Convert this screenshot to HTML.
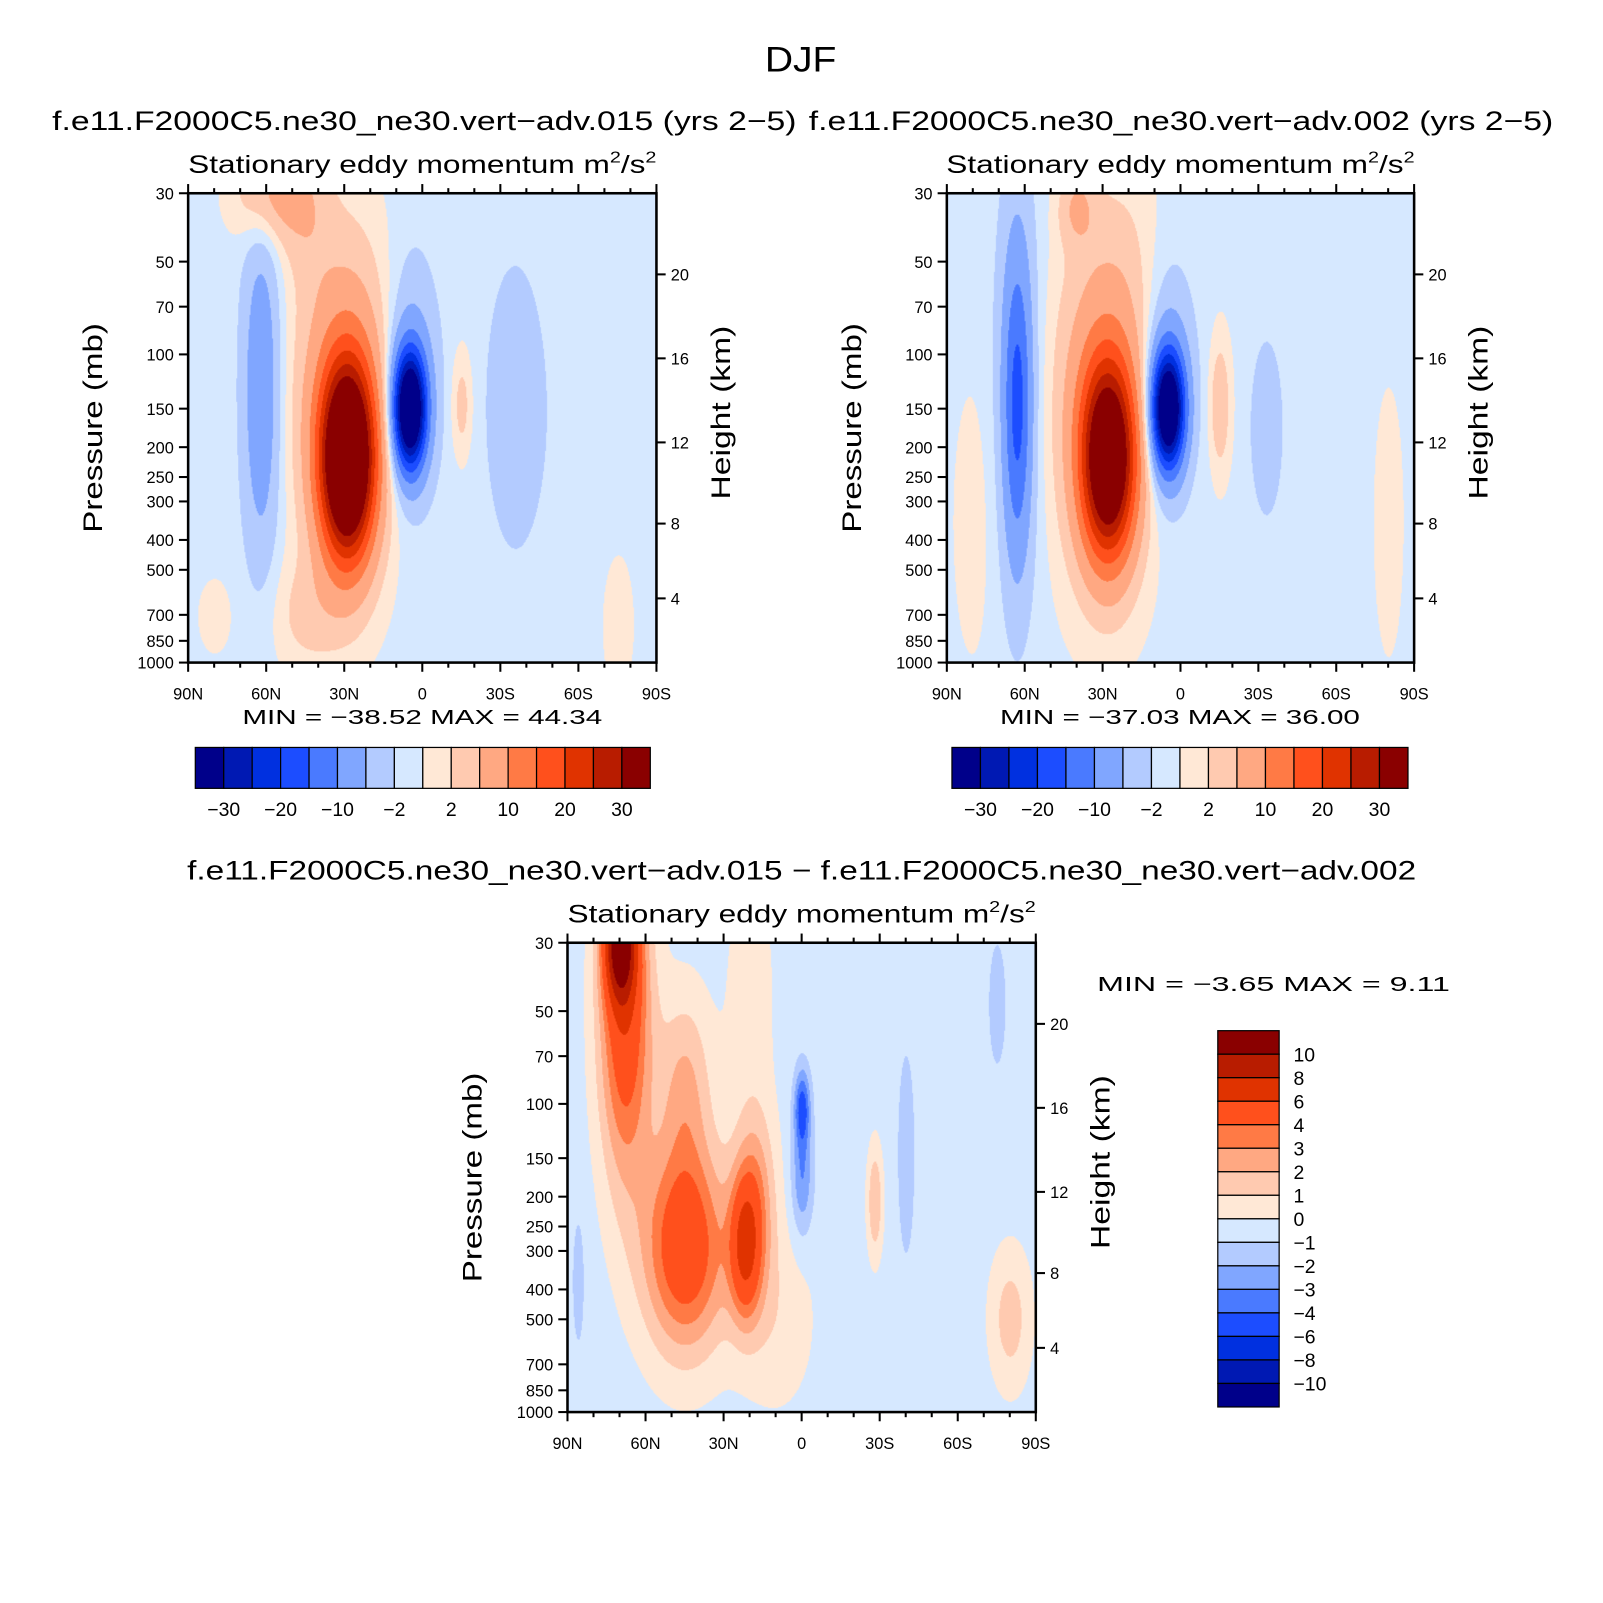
<!DOCTYPE html>
<html><head><meta charset="utf-8"><style>
body{margin:0;background:#fff;}
#outer{position:relative;width:1603px;height:1603px;overflow:hidden;}
#wrap{position:absolute;left:0;top:0;width:1560px;height:1560px;transform:scale(1.0225);transform-origin:0 0;font-family:"Liberation Sans",sans-serif;}
canvas{position:absolute;}
svg{position:absolute;left:0;top:0;}
</style></head><body>
<div id="outer">
<div id="wrap">
<canvas id="c1"></canvas>
<canvas id="c2"></canvas>
<canvas id="c3"></canvas>
<svg id="s" width="1560" height="1560"></svg>
</div></div>
<script>
// ---- data ----
const latTicks = [90,60,30,0,-30,-60,-90];
const latLabels = ["90N","60N","30N","0","30S","60S","90S"];
const presTicks = [30,50,70,100,150,200,250,300,400,500,700,850,1000];
const kmTicks = [20,16,12,8,4];
const kmPres = [55,103,193,354,619];
const levelsTop = [-30,-25,-20,-15,-10,-5,-2,0,2,5,10,15,20,25,30];
const levelsBot = [-10,-8,-6,-4,-3,-2,-1,0,1,2,3,4,6,8,10];
const colorsTop = ["#00008a","#0019b3","#0030e0","#1c4dff","#4a7aff","#80a6ff","#b3cbff","#d6e8ff","#ffe8d6","#ffcab0","#ffa882","#ff7a45","#ff501c","#e03300","#b81c00","#8a0000"];
const labelsTopCb = ["−30","−20","−10","−2","2","10","20","30"];
const labelsBotCb = ["10","8","6","4","3","2","1","0","−1","−2","−3","−4","−6","−8","−10"];
// blobs: lat, z(0 top..1 bottom in log-p), amplitude, lat-width, z-width
const blobLat1=[29,30,5,5,62,58,-15,-35,-60,45,-75,80,45];
const blobZ1  =[0.57,0.45,0.46,0.40,0.42,0.0,0.45,0.45,0.5,0.9,0.9,0.9,0.05];
const blobA1  =[48,10,-42,-6,-8,7,4,-3.5,-0.8,3,2,1.5,3];
const blobSx1 =[10,18,6,10,7,14,4,9,40,14,8,8,10];
const blobSz1 =[0.2,0.35,0.12,0.25,0.35,0.1,0.12,0.25,0.5,0.12,0.2,0.1,0.15];
const base1=-0.8;
const blobLat2=[28,30,5,5,63,63,40,-15,-33,80,-80,20];
const blobZ2  =[0.57,0.45,0.46,0.40,0.45,0.4,0.03,0.45,0.5,0.7,0.7,0.15];
const blobA2  =[40,9,-40,-6,-13,-4,5,5,-4,1.5,1.5,1.2];
const blobSx2 =[10,18,6,10,5,9,7,4,6,8,6,15];
const blobSz2 =[0.2,0.35,0.12,0.25,0.3,0.5,0.08,0.14,0.18,0.3,0.3,0.25];
const base2=-0.6;
const blobLat3=[70,68,45,22,18,45,0,0,-28,-40,-75,-80,86,10,20];
const blobZ3  =[0.0,0.15,0.65,0.65,0.55,0.3,0.35,0.5,0.55,0.45,0.13,0.8,0.72,0.8,0.1];
const blobA3  =[9,6,6,5,3,2.5,-4,-2.5,2.5,-1.5,-1.5,2,-1.5,1.2,1];
const blobSx3 =[6,10,16,6,8,10,3,4,3,3,3,8,2,15,10];
const blobSz3 =[0.12,0.35,0.22,0.15,0.2,0.2,0.08,0.12,0.12,0.2,0.12,0.15,0.12,0.2,0.3];
const base3=-0.5;

const P1={x0:184,y0:189,w:458,h:459}, P2={x0:926,y0:189,w:457,h:459}, P3={x0:555,y0:922,w:458,h:459};
const L30=Math.log(1000/30);
function xOf(lat,p){return p.x0+(90-lat)/180*p.w;}
function yOf(pr,p){return p.y0+Math.log(pr/30)/L30*p.h;}
function field(lat,z,L,Z,A,SX,SZ,b){let v=b;for(let i=0;i<L.length;i++){const dx=(lat-L[i])/SX[i],dz=(z-Z[i])/SZ[i];v+=A[i]*Math.exp(-dx*dx-dz*dz);}return v;}
function hex(c){return [parseInt(c.substr(1,2),16),parseInt(c.substr(3,2),16),parseInt(c.substr(5,2),16)];}
const rgb=colorsTop.map(hex);
function drawField(id,p,L,Z,A,SX,SZ,b,lev){
  const c=document.getElementById(id);c.width=p.w;c.height=p.h;c.style.left=p.x0+'px';c.style.top=p.y0+'px';
  const ctx=c.getContext('2d');const img=ctx.createImageData(p.w,p.h);
  for(let j=0;j<p.h;j++){const z=j/p.h;for(let i=0;i<p.w;i++){const lat=90-i/p.w*180;const v=field(lat,z,L,Z,A,SX,SZ,b);
    let k=0;while(k<lev.length&&v>=lev[k])k++;const col=rgb[k];const o=(j*p.w+i)*4;img.data[o]=col[0];img.data[o+1]=col[1];img.data[o+2]=col[2];img.data[o+3]=255;}}
  ctx.putImageData(img,0,0);
}
drawField('c1',P1,blobLat1,blobZ1,blobA1,blobSx1,blobSz1,base1,levelsTop);
drawField('c2',P2,blobLat2,blobZ2,blobA2,blobSx2,blobSz2,base2,levelsTop);
drawField('c3',P3,blobLat3,blobZ3,blobA3,blobSx3,blobSz3,base3,levelsBot);

const S=document.getElementById('s');const NS='http://www.w3.org/2000/svg';
function el(t,a,txt){const e=document.createElementNS(NS,t);for(const k in a)e.setAttribute(k,a[k]);if(txt!==undefined)e.textContent=txt;S.appendChild(e);return e;}
function text(x,y,s,size,anchor,name,rot,tl){const e=el('text',{x:x,y:y,'font-size':size,'text-anchor':anchor||'middle','font-family':'Liberation Sans, sans-serif',fill:'#000'},s);
  if(rot)e.setAttribute('transform','rotate(-90 '+x+' '+y+')');
  if(tl){e.setAttribute('textLength',tl);e.setAttribute('lengthAdjust','spacingAndGlyphs');}
  
  return e;}
function line(x1,y1,x2,y2,w){const e=el('line',{x1:x1,y1:y1,x2:x2,y2:y2,stroke:'#000','stroke-width':w||2});
  
  return e;}

function axes(p,tag){
  const r=el('rect',{x:p.x0,y:p.y0,width:p.w,height:p.h,fill:'none',stroke:'#000','stroke-width':2.5});
  
  
  for(let lat=90;lat>=-90;lat-=10){const x=xOf(lat,p);const maj=lat%30===0;const len=maj?9:5;
    line(x,p.y0+p.h,x,p.y0+p.h+len);line(x,p.y0,x,p.y0-len);}
  latTicks.forEach((lat,i)=>{text(xOf(lat,p),p.y0+p.h+36,latLabels[i],16,'middle',tag+'-x-tick-label');});
  presTicks.forEach(pr=>{const y=yOf(pr,p);line(p.x0-9,y,p.x0,y);text(p.x0-14,y+6,String(pr),16,'end',tag+'-y-tick-label');});
  kmTicks.forEach((k,i)=>{const y=yOf(kmPres[i],p);line(p.x0+p.w,y,p.x0+p.w+9,y);text(p.x0+p.w+14,y+6,String(k),16,'start',tag+'-height-tick-label');});
  text(p.x0-84,p.y0+p.h/2,'Pressure (mb)',26,'middle',tag+'-y-axis-title',true,205);
  text(p.x0+p.w+72,p.y0+p.h/2-15,'Height (km)',26,'middle',tag+'-height-axis-title',true,170);
  const t=text(p.x0+p.w/2,p.y0-20,'',24,'middle',tag+'-variable-title');
  t.innerHTML='Stationary eddy momentum  m<tspan font-size="15" dy="-10">2</tspan><tspan dy="10">/s</tspan><tspan font-size="15" dy="-10">2</tspan>';
  t.setAttribute('textLength',458);t.setAttribute('lengthAdjust','spacingAndGlyphs');
}
axes(P1,'panel-1');axes(P2,'panel-2');axes(P3,'panel-diff');

text(783,70,'DJF',34,'middle','figure-title',false,70);
text(415,127,'f.e11.F2000C5.ne30_ne30.vert−adv.015 (yrs 2−5)',26,'middle','panel-1-title',false,728);
text(1155,127,'f.e11.F2000C5.ne30_ne30.vert−adv.002 (yrs 2−5)',26,'middle','panel-2-title',false,728);
text(784,860,'f.e11.F2000C5.ne30_ne30.vert−adv.015 − f.e11.F2000C5.ne30_ne30.vert−adv.002',26,'middle','panel-diff-title',false,1202);
text(413,708,'MIN = −38.52   MAX =   44.34',20,'middle','panel-1-min-max',false,352);
text(1154,708,'MIN = −37.03   MAX =   36.00',20,'middle','panel-2-min-max',false,352);
text(1073,969,'MIN =    −3.65   MAX =    9.11',20,'start','panel-diff-min-max',false,345);

function hbar(x0,y0,w,h,tag){const bw=w/16;
  colorsTop.forEach((c,i)=>{const r=el('rect',{x:x0+i*bw,y:y0,width:bw,height:h,fill:c,stroke:'#000','stroke-width':1.2});
    
    });
  labelsTopCb.forEach((s,i)=>{text(x0+(2*i+1)*bw,y0+h+27,s,19,'middle',tag+'-colorbar-label');});
}
hbar(191,731,445,40,'panel-1');hbar(931,731,446,40,'panel-2');
(function(){const x0=1191,y0=1008,w=60,h=368,bh=h/16;
  colorsTop.slice().reverse().forEach((c,i)=>{const r=el('rect',{x:x0,y:y0+i*bh,width:w,height:bh,fill:c,stroke:'#000','stroke-width':1.2});
    
    });
  labelsBotCb.forEach((s,i)=>{text(x0+w+14,y0+(i+1)*bh+7,s,19,'start','panel-diff-colorbar-label');});
})();
</script>
</body></html>
